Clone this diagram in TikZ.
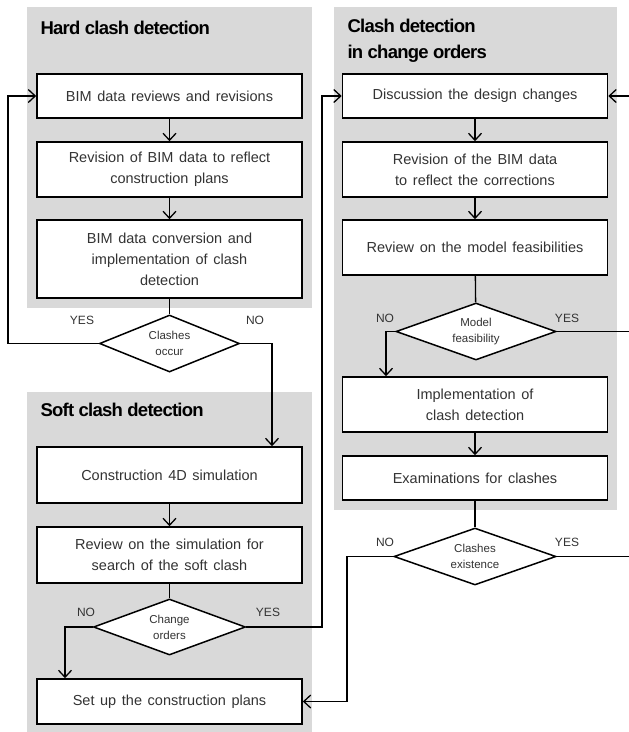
\documentclass[tikz,border=0pt]{standalone}
\usepackage{fontspec}
\setmainfont{Liberation Sans}[WordSpace=1.4]
\newfontfamily\ttlfont{Liberation Sans}[LetterSpace=-4]
\usepackage{tikz}
\usetikzlibrary{arrows.meta}
\usetikzlibrary{shapes.geometric}
\usetikzlibrary{positioning}

\begin{document}
\begin{tikzpicture}
  [
    x=1pt,y=-1pt,
    panel/.style={
      fill=black!15,
      draw=none
    },
    proc/.style={
      draw,
      fill=white,
      line width=1.6pt,
      minimum width=265pt,
      align=center,
      text=black!80,
      font=\fontsize{14.5}{21}\selectfont
    },
    choice/.style={
      draw,
      fill=white,
      shape=diamond,
      aspect=2.5,
      inner sep=0pt,
      line width=1.5pt,
      align=center,
      text=black!80,
      font=\fontsize{11.5}{16}\selectfont
    },
    ttl/.style={
      anchor=west,
      align=left,
      font=\ttlfont\bfseries\fontsize{18.5}{26}\selectfont
    },
    lab/.style={
      text=black!80,
      font=\fontsize{12}{14}\selectfont
    },
    arr/.style={
      line width=1.3pt,
      -{Straight Barb[length=7pt,width=13pt,line width=1.3pt]}
    },
    ln/.style={
      line width=1.3pt
    }
  ]
  \useasboundingbox (0,0) rectangle (629,732);
  \fill [white] (0,0) rectangle (629,732);
  % panels
  \draw [panel] (27,7) rectangle (312,308);
  \draw [panel] (27,392) rectangle (312,732);
  \draw [panel] (334,7) rectangle (617,510);
  \node [ttl] (tHard) at (37,28) {Hard clash detection};
  \node [ttl] (tSoft) at (37,410) {Soft clash detection};
  \node [ttl] (tChange) at (344,41) {Clash detection\\in change orders};
  % hard clash detection
  \node [proc,minimum height=44pt] (hd1) at (169.5,96) {BIM data reviews and revisions};
  \node [proc,minimum height=55pt] (hd2) at (169.5,169.5) {Revision of BIM data to reflect\\construction plans};
  \node [proc,minimum height=78pt] (hd3) at (169.5,259) {BIM data conversion and\\implementation of clash\\detection};
  \node [choice,minimum width=140pt,minimum height=57pt] (dHard) at (169.5,343.5) {Clashes\\occur};
  % soft clash detection
  \node [proc,minimum height=56pt] (sc1) at (169.5,475) {Construction 4D simulation};
  \node [proc,minimum height=56pt] (sc2) at (169.5,555) {Review on the simulation for\\search of the soft clash};
  \node [choice,minimum width=152pt,minimum height=56pt] (dChange) at (169.5,627) {Change\\orders};
  \node [proc,minimum height=45pt] (sc3) at (169.5,701.5) {Set up the construction plans};
  % change orders
  \node [proc,minimum height=44pt] (co1) at (475,96) {Discussion the design changes};
  \node [proc,minimum height=55pt] (co2) at (475,169.5) {Revision of the BIM data\\to reflect the corrections};
  \node [proc,minimum height=55pt] (co3) at (475,247.5) {Review on the model feasibilities};
  \node [choice,minimum width=160pt,minimum height=57pt] (dModel) at (476,331.5) {Model\\feasibility};
  \node [proc,minimum height=55pt] (co4) at (475,404.5) {Implementation of\\clash detection};
  \node [proc,minimum height=44pt] (co5) at (475,478) {Examinations for clashes};
  \node [choice,minimum width=162pt,minimum height=57pt] (dExist) at (475,556.5) {Clashes\\existence};
  % labels
  \node [lab] (lYesHard) at (82,320) {YES};
  \node [lab] (lNoHard) at (255,320) {NO};
  \node [lab] (lNoChange) at (86,612) {NO};
  \node [lab] (lYesChange) at (268,612) {YES};
  \node [lab] (lNoModel) at (385,318) {NO};
  \node [lab] (lYesModel) at (567,318) {YES};
  \node [lab] (lNoExist) at (385,542) {NO};
  \node [lab] (lYesExist) at (567,542) {YES};
  % turning points
  \coordinate (yesHard) at (8,343.5);
  \coordinate (noHard) at (272,343.5);
  \coordinate (noChange) at (65,627);
  \coordinate (yesChange) at (322,96);
  \coordinate (noModel) at (386,331.5);
  \coordinate (rail) at (640,96);
  \coordinate (noExist) at (347,701.5);
  % connectors
  \draw [arr] (hd1) -- (hd2);
  \draw [arr] (hd2) -- (hd3);
  \draw [ln] (hd3) -- (dHard);
  \draw [arr] (dHard.west) -- (yesHard) |- (hd1.west);
  \draw [arr] (dHard.east) -- (noHard) -- (noHard |- sc1.north);
  \draw [arr] (sc1) -- (sc2);
  \draw [ln] (sc2) -- (dChange);
  \draw [arr] (dChange.west) -- (noChange) -- (noChange |- sc3.north);
  \draw [arr] (dChange.east) -| (yesChange) -- (co1.west);
  \draw [arr] (co1) -- (co2);
  \draw [arr] (co2) -- (co3);
  \draw [ln] (co3) -- (dModel);
  \draw [arr] (dModel.west) -- (noModel) -- (noModel |- co4.north);
  \draw [arr] (dModel.east) -| (rail) -- (co1.east);
  \draw [arr] (co4) -- (co5);
  \draw [ln] (co5) -- (dExist);
  \draw [ln] (dExist.east) -| (rail);
  \draw [arr] (dExist.west) -| (noExist) -- (sc3.east);
\end{tikzpicture}
\end{document}
